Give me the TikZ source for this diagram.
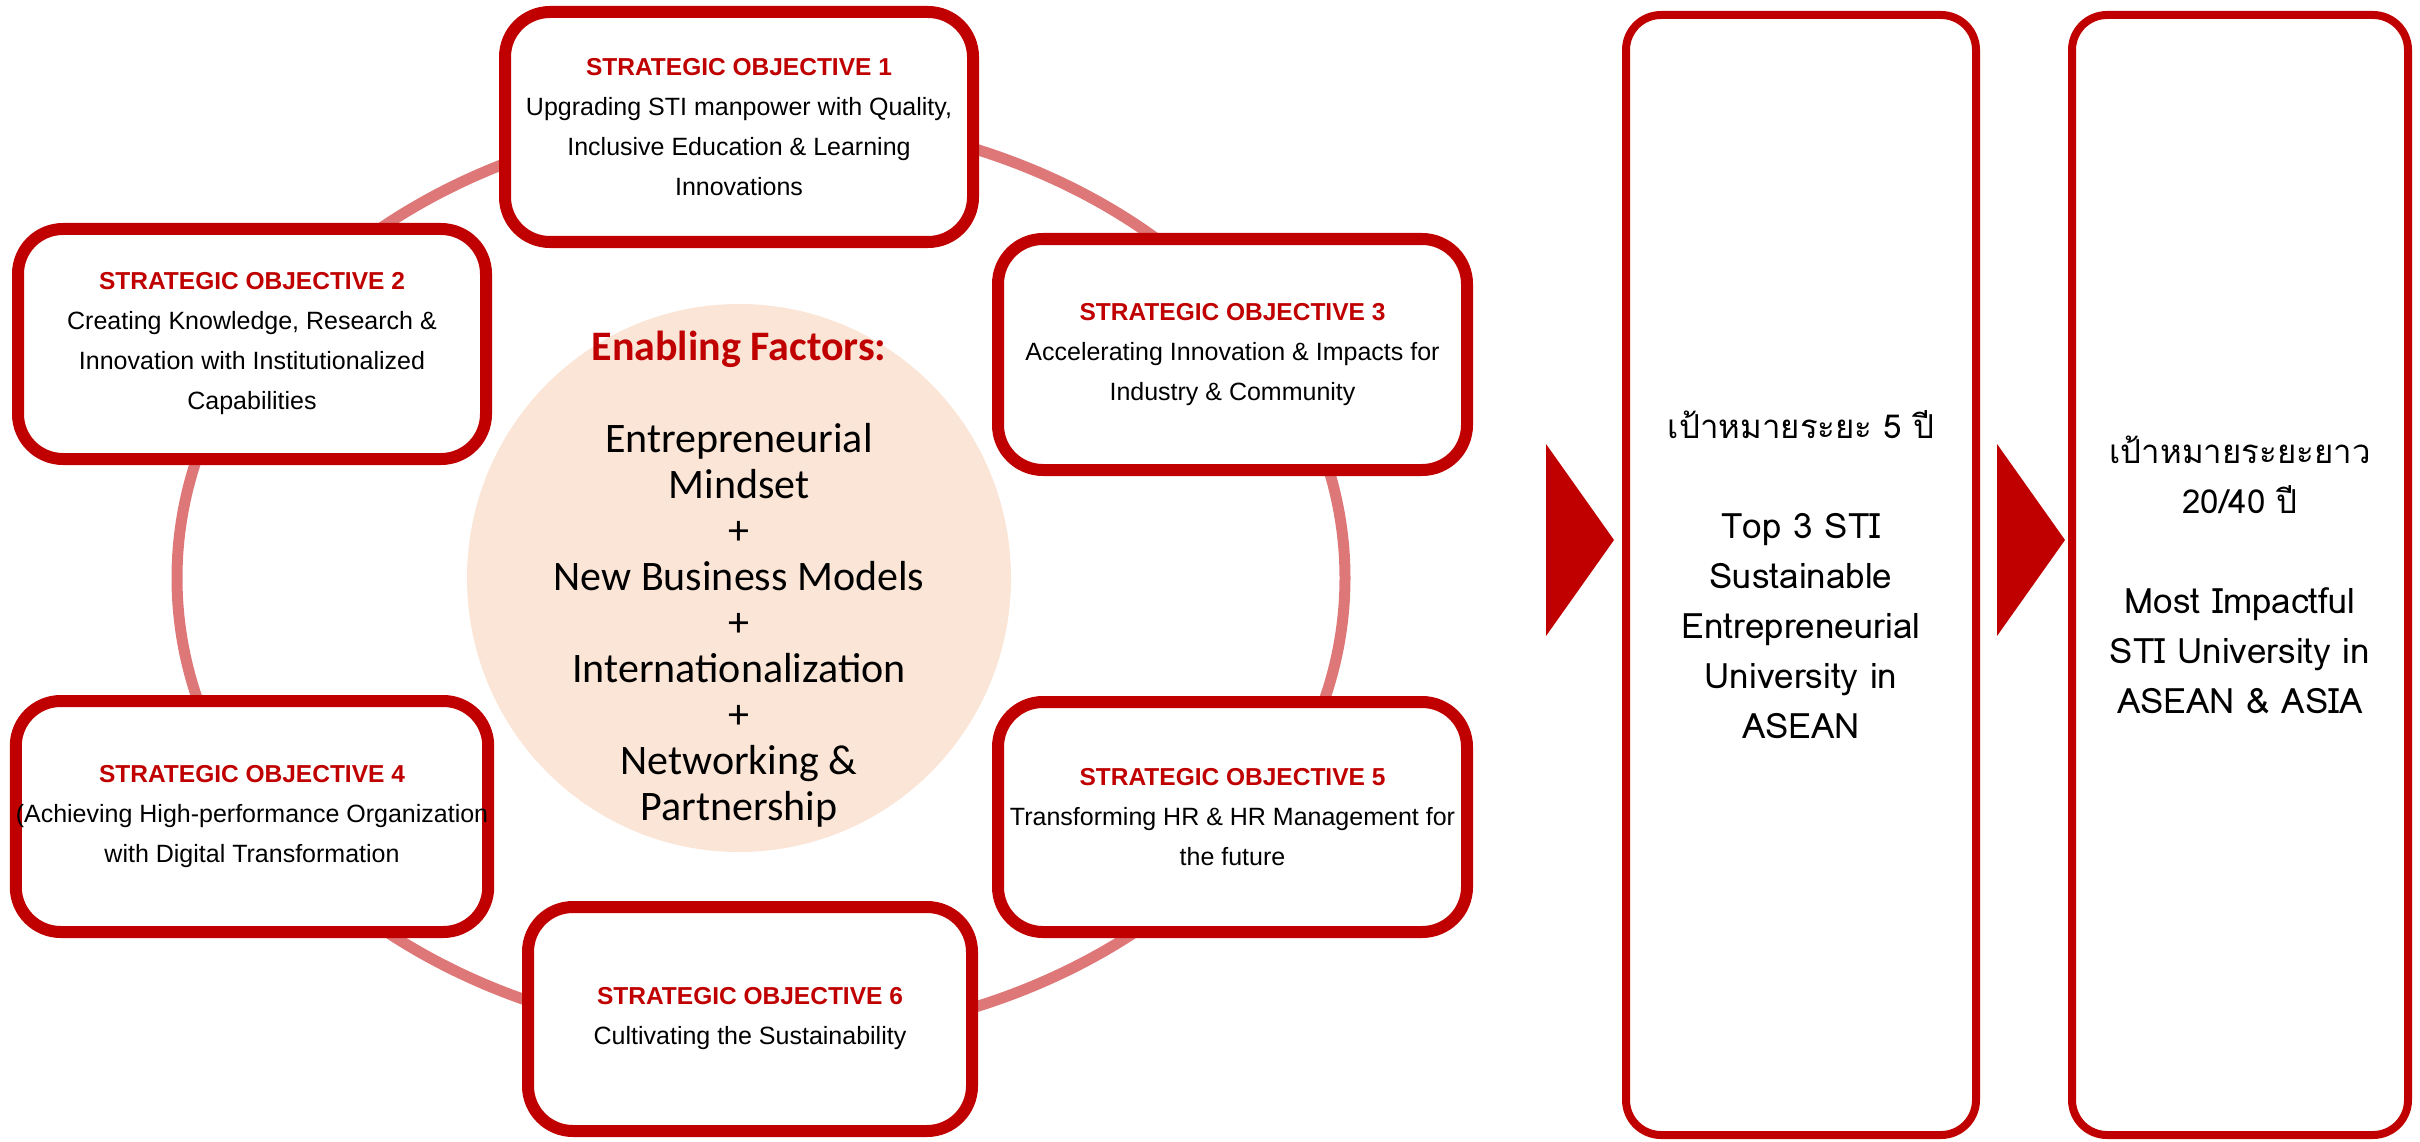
\documentclass[tikz,border=0pt]{standalone}
\usepackage{fontspec}
\newfontfamily\arialf{Liberation Sans}
\newfontfamily\calibf{Carlito}
\newfontfamily\thaif[Script=Thai]{Loma}
\definecolor{boxred}{RGB}{192,0,0}
\definecolor{ringred}{RGB}{222,120,120}
\definecolor{peach}{RGB}{251,229,214}
\newcommand\objttl[1]{{\fontsize{24.5}{40}\selectfont\bfseries\color{boxred}#1}}
\newcommand\latn{\fontsize{35}{50}\selectfont}
\tikzset{
  objbox/.style={draw=boxred, line width=12pt, fill=white, rounded corners=45pt,
    inner sep=0pt, align=center, text=black,
    font=\arialf\fontsize{25}{40}\selectfont},
  goalbox/.style={draw=boxred, line width=8pt, fill=white, rounded corners=35pt,
    inner sep=0pt, align=center, text=black,
    font=\thaif\fontsize{33}{50}\selectfont},
  ring/.style={draw=ringred, line width=11pt},
  bigarrow/.style={fill=boxred},
}
\begin{document}
\begin{tikzpicture}[x=1pt,y=-1pt]
\path[use as bounding box] (0,0) rectangle (2420,1142);
% ring behind the objectives
\draw[ring] (761,578) ellipse [x radius=584pt, y radius=461pt];
% enabling factors
\fill[peach] (739,578) ellipse [x radius=272pt, y radius=274pt];
\node[align=center, font=\calibf\fontsize{42}{46}\selectfont] (ef) at (739,579)
  {{\bfseries\color{boxred}Enabling Factors:}\\[46pt]
   Entrepreneurial\\Mindset\\+\\New Business Models\\+\\Internationalization\\+\\Networking \&\\Partnership};
% objectives
\node[objbox, minimum width=468pt, minimum height=230pt] (o1) at (739,127)
  {\objttl{STRATEGIC OBJECTIVE 1}\\Upgrading STI manpower with Quality,\\Inclusive Education \& Learning\\Innovations};
\node[objbox, minimum width=468pt, minimum height=230pt] (o2) at (252,344)
  {\objttl{STRATEGIC OBJECTIVE 2}\\Creating Knowledge, Research \&\\Innovation with Institutionalized\\Capabilities};
\node[objbox, minimum width=469pt, minimum height=231pt] (o3) at (1232.5,354.5)
  {\objttl{STRATEGIC OBJECTIVE 3}\\Accelerating Innovation \& Impacts for\\Industry \& Community};
\node[objbox, minimum width=468pt, minimum height=231pt] (o4) at (252,816.5)
  {\objttl{STRATEGIC OBJECTIVE 4}\\(Achieving High-performance Organization\\with Digital Transformation};
\node[objbox, minimum width=469pt, minimum height=230pt] (o5) at (1232.5,817)
  {\objttl{STRATEGIC OBJECTIVE 5}\\Transforming HR \& HR Management for\\the future};
\node[objbox, minimum width=444pt, minimum height=224pt] (o6) at (750,1019)
  {\objttl{STRATEGIC OBJECTIVE 6}\\Cultivating the Sustainability};
% arrows
\fill[bigarrow] (1546,444) -- (1614,540) -- (1546,636) -- cycle;
\fill[bigarrow] (1997,444) -- (2065,540) -- (1997,636) -- cycle;
% goals
\node[goalbox, minimum width=350pt, minimum height=1120pt] (g1) at (1801,575)
  {เป้าหมายระยะ 5 ปี\\[50pt]\latn Top 3 STI\\\latn Sustainable\\\latn Entrepreneurial\\\latn University in\\\latn ASEAN};
\node[goalbox, minimum width=336pt, minimum height=1120pt] (g2) at (2240,575)
  {เป้าหมายระยะยาว\\20/40 ปี\\[50pt]\latn Most Impactful\\\latn STI University in\\\latn ASEAN \& ASIA};
\end{tikzpicture}
\end{document}
